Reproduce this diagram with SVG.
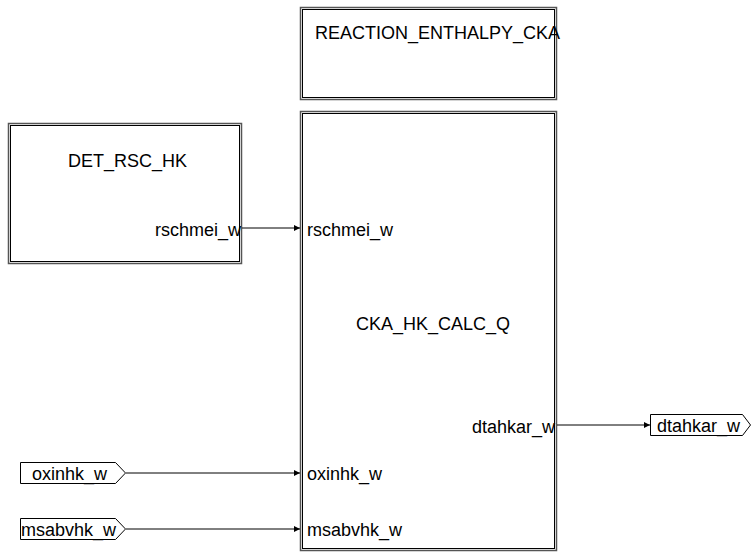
<svg xmlns="http://www.w3.org/2000/svg" width="752" height="553" viewBox="0 0 752 553">
<style>
.o{fill:#fff;stroke:#555;stroke-width:1.5}
.i{fill:none;stroke:#000;stroke-width:1}
.t{font-family:"Liberation Sans",Arial,sans-serif;font-size:18px;fill:#000}
.e{text-anchor:end}
.c{stroke:#000;stroke-width:1;fill:none}
.p{fill:#fff;stroke:#000;stroke-width:1}
</style>
<defs>
<marker id="a" markerWidth="7" markerHeight="7" refX="6" refY="3.5" orient="auto" markerUnits="userSpaceOnUse">
<path d="M0,0.5 L6,3.5 L0,6.5 Z" fill="#000"/>
</marker>
</defs>
<g id="REACTION_ENTHALPY_CKA">
<rect class="o" x="300.5" y="7.5" width="256" height="92"/>
<rect class="i" x="302.5" y="9.5" width="252" height="88"/>
<text class="t" x="315" y="39">REACTION_ENTHALPY_CKA</text>
</g>
<g id="DET_RSC_HK">
<rect class="o" x="8.5" y="123.5" width="233" height="140"/>
<rect class="i" x="10.5" y="125.5" width="229" height="136"/>
<text class="t" x="68" y="167">DET_RSC_HK</text>
<text class="t e" x="241" y="236">rschmei_w</text>
</g>
<g id="CKA_HK_CALC_Q">
<rect class="o" x="300.5" y="111.5" width="256" height="439"/>
<rect class="i" x="302.5" y="113.5" width="252" height="435"/>
<text class="t" x="356" y="330">CKA_HK_CALC_Q</text>
<text class="t" x="307" y="236">rschmei_w</text>
<text class="t e" x="555" y="433">dtahkar_w</text>
<text class="t" x="307" y="480">oxinhk_w</text>
<text class="t" x="307" y="536">msabvhk_w</text>
</g>
<g id="oxinhk_w_in">
<path class="p" d="M20.5,462.5 H115.5 L125.5,473 L115.5,483.5 H20.5 Z"/>
<text class="t" x="32" y="480">oxinhk_w</text>
</g>
<g id="msabvhk_w_in">
<path class="p" d="M20.5,518.5 H115.5 L125.5,529 L115.5,539.5 H20.5 Z"/>
<text class="t" x="21" y="536">msabvhk_w</text>
</g>
<g id="dtahkar_w_out">
<path class="p" d="M650.5,414.5 H742.5 L750.5,425 L742.5,435.5 H650.5 Z"/>
<text class="t" x="657" y="432">dtahkar_w</text>
</g>
<g id="connectors">
<line class="c" x1="242" y1="228" x2="300" y2="228" marker-end="url(#a)"/>
<line class="c" x1="126" y1="473" x2="300" y2="473" marker-end="url(#a)"/>
<line class="c" x1="126" y1="529" x2="300" y2="529" marker-end="url(#a)"/>
<line class="c" x1="557" y1="425" x2="650" y2="425" marker-end="url(#a)"/>
</g>
</svg>
